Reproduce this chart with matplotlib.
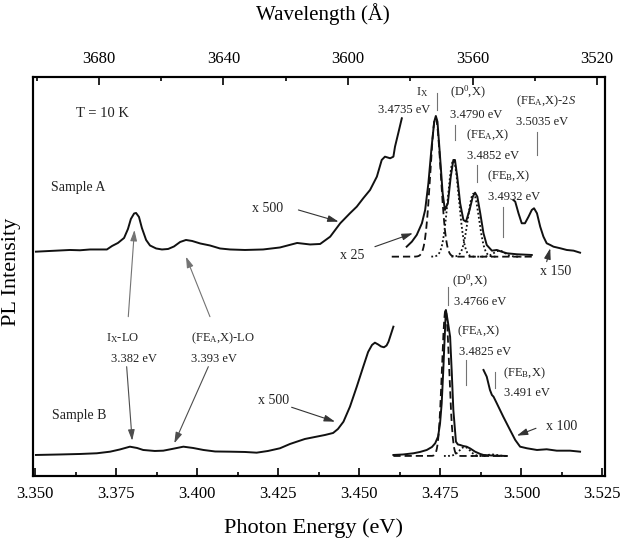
import numpy as np
import matplotlib
matplotlib.use("Agg")
import matplotlib.pyplot as plt
from matplotlib.ticker import FixedLocator

plt.rcParams['font.family'] = ['Liberation Serif', 'DejaVu Serif']
plt.rcParams['mathtext.fontset'] = 'custom'
plt.rcParams['mathtext.rm'] = 'Liberation Serif'
plt.rcParams['mathtext.it'] = 'Liberation Serif:italic'

# ---------------- data (photon energy in eV, PL intensity in arb. units, offset) --------------
# Sample A, low-energy part (x 500)
a_low_E = [3.3502, 3.3545, 3.3576, 3.3607, 3.3638, 3.3669, 3.3700, 3.3721, 3.3737, 3.3755,
           3.3774, 3.3786, 3.3795, 3.3805, 3.3811, 3.3820, 3.3829, 3.3842, 3.3854, 3.3873,
           3.3891, 3.3910, 3.3928, 3.3947, 3.3965, 3.3984, 3.4009, 3.4039, 3.4070, 3.4101,
           3.4147, 3.4203, 3.4255, 3.4308, 3.4348, 3.4379, 3.4410, 3.4441, 3.4471, 3.4492,
           3.4512, 3.4533, 3.4554, 3.4569, 3.4579, 3.4595, 3.4605, 3.4610, 3.4620, 3.4631]
a_low_I = [224.8, 225.5, 226.0, 226.5, 226.2, 227.0, 227.0, 227.0, 230.5, 233.5,
           238.5, 247.5, 257.5, 263.0, 263.5, 259.5, 248.5, 236.5, 231.0, 228.0,
           227.0, 227.5, 230.0, 234.5, 236.5, 235.5, 233.0, 231.0, 228.0, 227.0,
           226.5, 227.0, 229.0, 233.5, 232.0, 232.5, 239.8, 253.2, 263.2, 269.8,
           278.2, 286.5, 299.8, 316.5, 319.8, 318.2, 319.8, 329.8, 343.2, 358.2]

# Sample A, excitonic region (x 25)
a_exc_E = [3.4646, 3.4662, 3.4677, 3.4693, 3.4703, 3.4713, 3.4723, 3.4731, 3.4736, 3.4741,
           3.4749, 3.4757, 3.4764, 3.4773, 3.4782, 3.4790, 3.4795, 3.4802, 3.4811, 3.4821,
           3.4829, 3.4840, 3.4850, 3.4857, 3.4864, 3.4873, 3.4883, 3.4893, 3.4909, 3.4924,
           3.4939, 3.4955, 3.4986, 3.5032]
a_exc_I = [229.8, 234.8, 241.5, 253.2, 266.5, 293.2, 329.8, 354.8, 360.5, 354.8,
           319.8, 283.2, 266.5, 273.2, 299.8, 316.5, 316.5, 299.8, 273.2, 256.5,
           254.8, 266.5, 279.8, 283.8, 279.8, 263.2, 243.2, 231.5, 225.8, 226.5,
           224.8, 223.2, 222.2, 221.5]

# Sample A, high-energy part (x 150)
a_hi_E = [3.4975, 3.4981, 3.4991, 3.5001, 3.5011, 3.5022, 3.5032, 3.5039, 3.5048, 3.5058,
          3.5068, 3.5078, 3.5089, 3.5099, 3.5120, 3.5140, 3.5161, 3.5181]
a_hi_I = [276.5, 274.8, 263.2, 253.2, 253.2, 259.8, 266.5, 268.2, 263.2, 249.8,
          239.8, 233.2, 231.5, 229.8, 228.2, 226.5, 225.8, 223.8]

# Sample A fitted components: I_X, (D0,X), (FE_A,X), (FE_B,X)
a_fit_E0 = [3.4735, 3.4790, 3.4852, 3.4932]
a_fit_amp = [139.0, 96.0, 63.0, 6.0]
a_fit_w = [0.0016, 0.0017, 0.0017, 0.0017]
a_fit_base = 219.8
a_fit_range = [3.4600, 3.5032]

# Sample B, low-energy part (x 500)
b_low_E = [3.3502, 3.3576, 3.3638, 3.3690, 3.3731, 3.3761, 3.3792, 3.3814, 3.3833, 3.3869,
           3.3895, 3.3922, 3.3957, 3.3987, 3.4019, 3.4055, 3.4101, 3.4147, 3.4183, 3.4218,
           3.4255, 3.4286, 3.4307, 3.4332, 3.4363, 3.4394, 3.4419, 3.4434, 3.4451, 3.4471,
           3.4492, 3.4512, 3.4527, 3.4539, 3.4548, 3.4558, 3.4567, 3.4576, 3.4584, 3.4590,
           3.4600, 3.4605]
b_low_I = [21.5, 22.0, 22.5, 23.2, 24.8, 27.0, 29.8, 28.5, 26.5, 25.5,
           25.8, 27.5, 29.8, 28.5, 26.5, 25.0, 24.8, 24.5, 23.8, 25.5,
           28.2, 32.5, 34.8, 37.5, 39.5, 41.5, 43.5, 47.5, 54.8, 69.8,
           89.8, 109.8, 124.5, 131.5, 133.8, 132.0, 130.0, 129.2, 131.0, 134.8,
           144.8, 149.8]

# Sample B, excitonic region
b_exc_E = [3.4605, 3.4635, 3.4667, 3.4687, 3.4708, 3.4724, 3.4734, 3.4743, 3.4749, 3.4754,
           3.4759, 3.4762, 3.4767, 3.4773, 3.4780, 3.4785, 3.4790, 3.4798, 3.4804, 3.4811,
           3.4820, 3.4831, 3.4842, 3.4857, 3.4873, 3.4883, 3.4919, 3.4955]
b_exc_I = [21.5, 22.0, 23.2, 24.5, 26.5, 29.5, 33.2, 40.0, 53.2, 73.0,
           106.5, 130.0, 166.5, 155.0, 139.8, 105.0, 66.5, 34.8, 32.0, 31.5,
           30.5, 29.8, 28.0, 24.8, 22.5, 21.5, 20.8, 20.5]

# Sample B, high-energy part (x 100)
b_hi_E = [3.4883, 3.4893, 3.4903, 3.4909, 3.4914, 3.4924, 3.4944, 3.4965, 3.4981, 3.4996,
          3.5017, 3.5048, 3.5078, 3.5109, 3.5150, 3.5181]
b_hi_I = [106.5, 99.8, 86.5, 81.5, 79.8, 73.2, 59.8, 46.5, 36.5, 29.8,
          28.2, 26.5, 27.2, 25.8, 25.8, 24.8]

# Sample B fitted components: (D0,X), (FE_A,X), (FE_B,X)
b_fit_E0 = [3.4766, 3.4825, 3.4910]
b_fit_amp = [146.0, 9.0, 1.5]
b_fit_w = [0.0011, 0.0016, 0.0016]
b_fit_base = 20.5
b_fit_range = [3.4605, 3.4955]

# axes
x_lim = [3.3493, 3.5258]
y_lim = [0, 399.5]
x_major = [3.350, 3.375, 3.400, 3.425, 3.450, 3.475, 3.500, 3.525]
x_minor = [3.3625, 3.3875, 3.4125, 3.4375, 3.4625, 3.4875, 3.5125]
wl_major = [3680, 3640, 3600, 3560, 3520]
wl_minor = [3700, 3660, 3620, 3580, 3540]
# linear wavelength scale used on the top axis
WL_REF_E, WL_REF, WL_SLOPE = 3.3504, 3700.0, 1040.5


def e2wl(e):
    return WL_REF - WL_SLOPE * (np.asarray(e) - WL_REF_E)


# ---------------- figure ----------------
fig = plt.figure(figsize=(6.24, 5.39), dpi=100)
ax = fig.add_axes([0.05288, 0.1160, 0.9167, 0.7412])

lc = '#111111'
for E, I in [(a_low_E, a_low_I), (a_exc_E, a_exc_I), (a_hi_E, a_hi_I),
             (b_low_E, b_low_I), (b_exc_E, b_exc_I), (b_hi_E, b_hi_I)]:
    ax.plot(E, I, color=lc, lw=1.4, solid_joinstyle='round')


def draw_fit(E0s, amps, ws, base, rng):
    for k, (e0, a, w) in enumerate(zip(E0s, amps, ws)):
        if k == 0:
            e = np.linspace(rng[0], rng[1], 400)
            ls = (0, (4, 2.2))
        else:
            e = np.linspace(max(rng[0], e0 - 4 * w), min(rng[1], e0 + 4 * w), 200)
            ls = (0, (1, 1.3))
        ax.plot(e, base + a * np.exp(-0.5 * ((e - e0) / w) ** 2), color=lc, lw=1.3, ls=ls)


draw_fit(a_fit_E0, a_fit_amp, a_fit_w, a_fit_base, a_fit_range)
draw_fit(b_fit_E0, b_fit_amp, b_fit_w, b_fit_base, b_fit_range)

ax.set_xlim(x_lim)
ax.set_ylim(y_lim)
ax.set_yticks([])
ax.set_xticks(x_major)
ax.set_xticklabels(['%.3f' % v for v in x_major])
ax.xaxis.set_minor_locator(FixedLocator(x_minor))
ax.tick_params(axis='x', which='major', direction='in', length=5.5, width=1.2,
               labelsize=12, pad=6.5, top=False)
ax.tick_params(axis='x', which='minor', direction='in', length=3.2, width=1.2, top=False)
for s in ax.spines.values():
    s.set_linewidth(1.5)

ax2 = ax.twiny()
ax2.set_xlim(e2wl(x_lim[0]), e2wl(x_lim[1]))
ax2.set_xticks(wl_major)
ax2.set_xticklabels([str(v) for v in wl_major])
ax2.xaxis.set_minor_locator(FixedLocator(wl_minor))
ax2.tick_params(axis='x', which='major', direction='in', length=5.5, width=1.2,
                labelsize=12, pad=7)
ax2.tick_params(axis='x', which='minor', direction='in', length=3.2, width=1.2)
ax2.set_yticks([])
for s in ax2.spines.values():
    s.set_linewidth(1.5)

fig.text(323 / 624, 1 - 20 / 539, 'Wavelength (Å)', ha='center', va='baseline', fontsize=15)
fig.text(313 / 624, 1 - 533 / 539, 'Photon Energy (eV)', ha='center', va='baseline', fontsize=16)
fig.text(12 / 624, 1 - 272 / 539, 'PL Intensity', ha='center', va='center', rotation=90, fontsize=16)

tc = '#222222'
labels = [
    (3.3708, 363.2, 'T = 10 K', 10.5),
    (3.3632, 288.8, 'Sample A', 10),
    (3.3634, 60.8, 'Sample B', 10),
    (3.3768, 138.2, r'I$_\mathrm{X}$-LO', 9),
    (3.3805, 117.2, '3.382 eV', 9),
    (3.4078, 138.2, r'(FE$_\mathrm{A}$,X)-LO', 9),
    (3.4052, 117.2, '3.393 eV', 9),
    (3.4217, 268.2, 'x 500', 10),
    (3.4479, 220.5, 'x 25', 10),
    (3.4234, 75.5, 'x 500', 10),
    (3.4694, 384.8, r'I$_\mathrm{X}$', 9),
    (3.4638, 366.5, '3.4735 eV', 9),
    (3.4834, 383.5, r'(D$^\mathrm{0}$,X)', 9),
    (3.4860, 361.5, '3.4790 eV', 9),
    (3.4897, 341.5, r'(FE$_\mathrm{A}$,X)', 9),
    (3.4914, 320.8, '3.4852 eV', 9),
    (3.4959, 300.5, r'(FE$_\mathrm{B}$,X)', 9),
    (3.4976, 279.8, '3.4932 eV', 9),
    (3.5075, 374.8, r'(FE$_\mathrm{A}$,X)-2$\mathit{S}$', 9),
    (3.5064, 354.8, '3.5035 eV', 9),
    (3.5106, 204.8, 'x 150', 10),
    (3.4841, 194.8, r'(D$^\mathrm{0}$,X)', 9),
    (3.4872, 174.2, '3.4766 eV', 9),
    (3.4869, 144.8, r'(FE$_\mathrm{A}$,X)', 9),
    (3.4888, 124.8, '3.4825 eV', 9),
    (3.5008, 103.2, r'(FE$_\mathrm{B}$,X)', 9),
    (3.5017, 83.2, '3.491 eV', 9),
    (3.5123, 49.8, 'x 100', 10),
]
for x, y, s, fs in labels:
    ax.text(x, y, s, ha='center', va='center', fontsize=fs, color=tc)

# marker lines for peak positions
marks = [
    (3.4739, 383.5, 366.5), (3.4795, 351.5, 336.5), (3.4862, 311.5, 294.8),
    (3.4944, 269.8, 239.8), (3.5048, 344.8, 321.5),
    (3.4772, 189.8, 171.5), (3.4829, 116.5, 91.5), (3.4917, 104.8, 88.2),
]
for x, y0, y1 in marks:
    ax.plot([x, x], [y0, y1], color='0.45', lw=0.8)

arrows = [
    ((3.4312, 266.5), (3.4436, 254.8), '0.2'),
    ((3.4548, 229.8), (3.4665, 243.2), '0.2'),
    ((3.5078, 214.8), (3.5089, 228.2), '0.2'),
    ((3.3787, 159.8), (3.3806, 246.5), '0.45'),
    ((3.4039, 159.8), (3.3965, 219.8), '0.45'),
    ((3.3782, 109.8), (3.3799, 35.8), '0.3'),
    ((3.4034, 109.8), (3.3929, 33.2), '0.3'),
    ((3.4291, 69.2), (3.4425, 54.8), '0.2'),
    ((3.5045, 48.2), (3.4986, 40.8), '0.2'),
]
for tail, tip, c in arrows:
    ax.annotate('', xy=tip, xytext=tail,
                arrowprops=dict(arrowstyle='-|>,head_length=0.65,head_width=0.2',
                                color=c, lw=0.8, mutation_scale=10,
                                shrinkA=0, shrinkB=0))

fig.savefig('out.png', dpi=100)
